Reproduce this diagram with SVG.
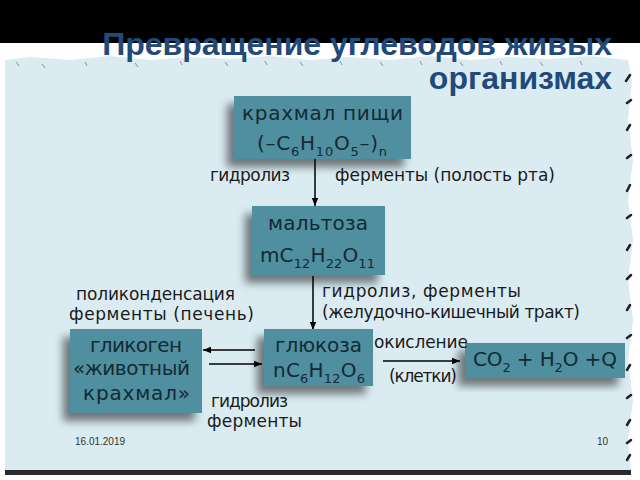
<svg xmlns="http://www.w3.org/2000/svg" width="640" height="480" viewBox="0 0 640 480">
<defs>
<filter id="sh" x="-30%" y="-30%" width="160%" height="170%">
<feDropShadow dx="-7" dy="8" stdDeviation="4" flood-color="#000" flood-opacity="0.5"/>
</filter>
<marker id="ah" viewBox="0 0 10 10" refX="10" refY="5" markerWidth="9" markerHeight="8" orient="auto" markerUnits="userSpaceOnUse">
<path d="M0,1 L10,5 L0,9 Z" fill="#000"/>
</marker>
<style>
.box{fill:#4f8f9f;filter:url(#sh)}
.t{font-family:"DejaVu Sans",sans-serif;fill:#142a33}
.bt{font-size:20px}
.lb{font-size:17px;fill:#1a1a1a}
.ln{stroke:#000;stroke-width:1.5;fill:none;marker-end:url(#ah)}
.title{font-family:"Liberation Sans",Arial,sans-serif;font-weight:bold;font-size:32px;fill:#1f4a7a;text-anchor:end}
.ft{font-family:"Liberation Sans",Arial,sans-serif;font-size:10px;fill:#333}
</style>
</defs>
<rect x="0" y="0" width="640" height="480" fill="#fff"/>
<rect x="0" y="0" width="640" height="43" fill="#000"/>
<!-- paper -->
<rect x="5" y="469" width="626" height="6" fill="#2a2a2a"/>
<path d="M5,60 L30,57 L70,60 L110,56 L150,60 L190,57 L230,59 L270,56 L310,60 L350,57 L390,60 L430,56 L470,60 L510,57 L550,59 L590,56 L628,60 L632,80 L628,120 L633,160 L628,200 L633,240 L628,280 L633,320 L628,360 L633,400 L628,440 L631,470 L5,470 Z" fill="#daecf2"/>
<g stroke="#555" stroke-width="1" opacity="0.6">
<path d="M16,62 l3,4 M42,64 l3,4 M85,62 l2,4 M135,63 l3,4 M180,61 l2,4 M225,62 l3,4 M265,61 l2,4 M300,62 l3,4 M340,61 l2,4 M380,62 l3,4 M420,61 l2,4 M460,62 l3,4 M500,61 l2,4 M540,62 l3,4 M580,61 l2,4"/>
</g>
<g stroke="#222" stroke-width="2.5" stroke-linecap="round">
<path d="M630,75 l-4,6 M631,100 l-4,3 M630,125 l-3,5 M631,155 l-4,3 M630,185 l-3,6 M631,215 l-4,3 M630,245 l-3,5 M631,275 l-4,4 M630,305 l-3,5 M631,335 l-4,3 M630,365 l-3,5 M631,395 l-4,3 M630,420 l-3,5 M631,440 l-4,3 M630,455 l-3,5"/>
</g>
<text class="title" x="612" y="55">Превращение углеводов живых</text>
<text class="title" x="612" y="89">организмах</text>

<g id="connectors">
<line class="ln" x1="315" y1="159" x2="315" y2="206"/>
<line class="ln" x1="313" y1="276" x2="313" y2="330"/>
<line class="ln" x1="255" y1="350" x2="203" y2="350"/>
<line class="ln" x1="209" y1="364" x2="262" y2="364"/>
<line class="ln" x1="383" y1="361" x2="460" y2="361"/>
</g>

<g id="starch">
<rect class="box" x="234" y="96" width="177" height="63"/>
<text class="t bt" x="242" y="120" textLength="161">крахмал пищи</text>
<text class="t bt" x="257" y="150" textLength="130">(–C<tspan font-size="13" dy="6">6</tspan><tspan dy="-6">H</tspan><tspan font-size="13" dy="6">10</tspan><tspan dy="-6">O</tspan><tspan font-size="13" dy="6">5</tspan><tspan dy="-6">–)</tspan><tspan font-size="13" dy="6">n</tspan></text>
</g>
<g id="maltose">
<rect class="box" x="252" y="206" width="133" height="69"/>
<text class="t bt" x="268" y="230" textLength="100">мальтоза</text>
<text class="t bt" x="260" y="262" textLength="115">mC<tspan font-size="13" dy="6">12</tspan><tspan dy="-6">H</tspan><tspan font-size="13" dy="6">22</tspan><tspan dy="-6">O</tspan><tspan font-size="13" dy="6">11</tspan></text>
</g>
<g id="glucose">
<rect class="box" x="264" y="329" width="109" height="57"/>
<text class="t bt" x="275" y="352" textLength="87">глюкоза</text>
<text class="t bt" x="273" y="377" textLength="92">nC<tspan font-size="13" dy="6">6</tspan><tspan dy="-6">H</tspan><tspan font-size="13" dy="6">12</tspan><tspan dy="-6">O</tspan><tspan font-size="13" dy="6">6</tspan></text>
</g>
<g id="glycogen">
<rect class="box" x="70" y="329" width="132" height="84"/>
<text class="t bt" x="90" y="352" textLength="92">гликоген</text>
<text class="t bt" x="73" y="375" textLength="117">«животный</text>
<text class="t bt" x="83" y="400" textLength="107">крахмал»</text>
</g>
<g id="products">
<rect class="box" x="465" y="343" width="160" height="35"/>
<text class="t bt" x="473" y="366" textLength="144">CO<tspan font-size="13" dy="6">2</tspan><tspan dy="-6"> + H</tspan><tspan font-size="13" dy="6">2</tspan><tspan dy="-6">O +Q</tspan></text>
</g>

<g id="labels">
<text class="t lb" x="210" y="181" textLength="80">гидролиз</text>
<text class="t lb" x="335" y="181" textLength="220">ферменты (полость рта)</text>
<text class="t lb" x="322" y="297" textLength="199">гидролиз,   ферменты</text>
<text class="t lb" x="322" y="318" textLength="258">(желудочно-кишечный тракт)</text>
<text class="t lb" x="76" y="300" textLength="159">поликонденсация</text>
<text class="t lb" x="69" y="320" textLength="185">ферменты  (печень)</text>
<text class="t lb" x="374" y="348" textLength="94">окисление</text>
<text class="t lb" x="389" y="382" textLength="68">(клетки)</text>
<text class="t lb" x="211" y="407" textLength="77">гидролиз</text>
<text class="t lb" x="207" y="427" textLength="95">ферменты</text>
</g>
<text class="ft" x="75" y="445">16.01.2019</text>
<text class="ft" x="597" y="445">10</text>
</svg>
